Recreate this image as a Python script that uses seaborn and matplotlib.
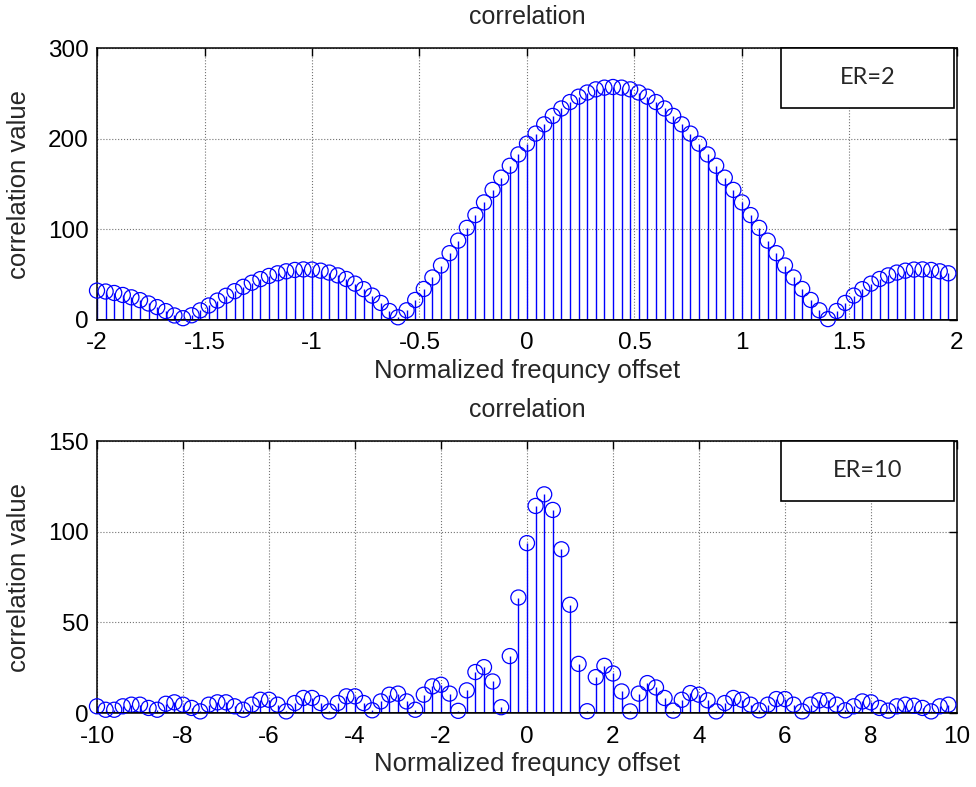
import matplotlib
matplotlib.use("Agg")
import matplotlib.pyplot as plt
from matplotlib.patches import Rectangle
import numpy as np
import seaborn as sns

# ER=2 panel: offsets -2 .. 1.96 step 0.04 (100 points)
x_er2 = np.round(np.arange(-2.0, 2.0, 0.04), 2)
y_er2 = [32.4, 31.4, 29.8, 27.6, 25.0, 21.9, 18.2, 14.2, 9.8, 5.0,
         2.0, 5.2, 10.6, 16.0, 21.4, 26.7, 31.8, 36.6, 41.1, 45.1,
         48.6, 51.5, 53.7, 55.2, 55.8, 55.6, 54.4, 52.3, 49.2, 45.2,
         40.1, 34.0, 26.9, 18.8, 9.9, 3.0, 10.7, 22.1, 34.2, 46.9,
         60.1, 73.7, 87.5, 101.6, 115.7, 129.7, 143.5, 157.0, 170.1, 182.6,
         194.5, 205.6, 215.8, 225.1, 233.3, 240.4, 246.3, 250.9, 254.4, 256.3,
         257.0, 256.3, 254.4, 250.9, 246.3, 240.4, 233.3, 225.1, 215.8, 205.6,
         194.5, 182.6, 170.1, 157.0, 143.5, 129.7, 115.7, 101.6, 87.5, 73.7,
         60.1, 46.9, 34.2, 22.1, 10.7, 1.0, 9.9, 18.8, 26.9, 34.0,
         40.1, 45.2, 49.2, 52.3, 54.4, 55.6, 55.8, 55.2, 53.7, 51.5]

# ER=10 panel: offsets -10 .. 9.8 step 0.2 (100 points)
x_er10 = np.round(np.arange(-10.0, 10.0, 0.2), 1)
y_er10 = [3.7, 1.8, 1.8, 3.7, 4.6, 4.6, 2.8, 1.8, 5.1, 5.9,
          4.6, 2.8, 0.9, 4.6, 5.9, 5.9, 3.7, 1.8, 4.6, 7.3,
          7.3, 4.6, 0.9, 5.5, 8.3, 8.3, 5.5, 0.9, 5.5, 9.2,
          9.2, 5.5, 1.5, 6.4, 10.1, 10.7, 6.4, 1.8, 10.1, 14.7,
          15.6, 10.7, 1.2, 12.5, 22.6, 25.3, 17.4, 3.2, 31.4, 63.7,
          93.7, 114.2, 120.6, 112.0, 90.3, 59.7, 27.1, 1.0, 19.8, 26.0,
          21.8, 11.9, 0.9, 10.7, 16.5, 14.1, 8.3, 1.3, 7.3, 11.0,
          10.1, 7.0, 0.9, 5.5, 8.3, 7.3, 4.6, 1.5, 4.6, 7.7,
          7.7, 4.6, 0.9, 4.6, 7.0, 7.0, 4.6, 1.5, 3.7, 6.4,
          5.9, 2.8, 1.3, 3.7, 4.6, 4.0, 2.8, 0.9, 3.7, 4.6]

panels = [
    dict(x=x_er2, y=y_er2, label="ER=2", xlim=(-2, 2), ylim=(0, 300),
         xticks=np.arange(-2, 2.01, 0.5), yticks=[0, 100, 200, 300]),
    dict(x=x_er10, y=y_er10, label="ER=10", xlim=(-10, 10), ylim=(0, 150),
         xticks=np.arange(-10, 10.1, 2), yticks=[0, 50, 100, 150]),
]

sns.set_style("white")
plt.rcParams['font.family'] = ['Liberation Sans', 'DejaVu Sans']
plt.rcParams['axes.unicode_minus'] = False

fig = plt.figure(figsize=(9.76, 7.87), dpi=100)
axes = [fig.add_axes([0.0994, 0.5934, 0.8811, 0.3456]),
        fig.add_axes([0.0994, 0.0940, 0.8811, 0.3456])]

for ax, p in zip(axes, panels):
    ax.vlines(p["x"], 0, p["y"], color="#0000ff", linewidth=1.0, zorder=2)
    sns.scatterplot(x=p["x"], y=p["y"], ax=ax, marker="o", s=118,
                    facecolor="none", edgecolor="#0000ff", linewidth=0.9,
                    zorder=3, clip_on=False)
    ax.axhline(0, color="black", linewidth=2.0, zorder=4)
    ax.set_xlim(*p["xlim"])
    ax.set_ylim(*p["ylim"])
    ax.set_xticks(p["xticks"])
    ax.set_xticklabels(["%g" % v for v in p["xticks"]])
    ax.set_yticks(p["yticks"])
    ax.grid(True, color="0.45", linestyle=":", linewidth=0.8)
    ax.set_axisbelow(True)
    ax.tick_params(direction="in", length=6, width=1, top=True, right=True,
                   labelsize=17.5, colors="black")
    ax.tick_params(axis="x", pad=9)
    ax.tick_params(axis="y", pad=6)
    for sp in ax.spines.values():
        sp.set_color("black")
        sp.set_linewidth(1.1)
    ax.set_title("correlation", fontsize=18, pad=17)
    ax.set_xlabel("Normalized frequncy offset", fontsize=18.5, labelpad=3)
    ax.set_ylabel("correlation value", fontsize=18.5, labelpad=12)
    ax.add_patch(Rectangle((0.795, 0.781), 0.2015, 0.219, transform=ax.transAxes,
                           facecolor="white", edgecolor="black", linewidth=1.2,
                           zorder=5, clip_on=False))
    ax.text(0.8958, 0.89, p["label"], transform=ax.transAxes, ha="center",
            va="center", fontsize=17, family=["Lato", "DejaVu Sans"], zorder=6)

fig.savefig("out.png", dpi=100)
